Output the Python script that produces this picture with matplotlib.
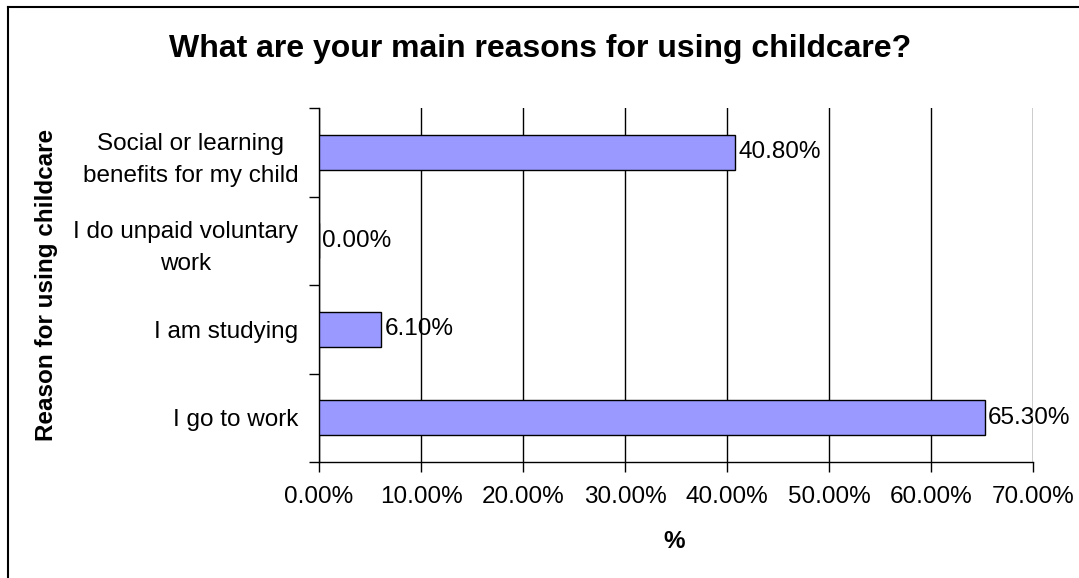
import matplotlib
matplotlib.use("Agg")
import matplotlib.pyplot as plt
from matplotlib.lines import Line2D
import numpy as np

plt.rcParams['font.family'] = ['Liberation Sans', 'DejaVu Sans']

# data (bottom to top)
categories = ["I go to work", "I am studying", "I do unpaid voluntary\nwork",
              "Social or learning\nbenefits for my child"]
values = [65.3, 6.1, 0.0, 40.8]
x_ticks = [0, 10, 20, 30, 40, 50, 60, 70]

W, H = 1079, 578
fig = plt.figure(figsize=(W / 100, H / 100), dpi=100)
ax = fig.add_axes([319 / W, 1 - 462 / H, (1033 - 319) / W, (462 - 108) / H])

FS = 17.5

y = np.arange(len(categories))
ax.barh(y, values, height=0.4, color='#9999FF', edgecolor='black', linewidth=1, zorder=3)

for yi, v in zip(y, values):
    ax.text(v + 0.3, yi, f"{v:.2f}%", va='center', ha='left', fontsize=FS, zorder=4)

ax.set_xlim(0, 70)
ax.set_ylim(-0.5, len(categories) - 0.5)

ax.set_xticks(x_ticks)
ax.set_xticklabels([f"{t:.2f}%" for t in x_ticks], fontsize=FS)
ax.tick_params(axis='x', direction='out', length=7, width=1, pad=10)

# category boundaries as major ticks, labels on minor ticks
ax.set_yticks(np.arange(-0.5, len(categories), 1.0))
ax.set_yticklabels([])
ax.set_yticks(y, minor=True)
ax.set_yticklabels(categories, minor=True, fontsize=FS, multialignment='center',
                   linespacing=1.6)
ax.tick_params(axis='y', which='major', direction='out', length=7, width=1)
ax.tick_params(axis='y', which='minor', length=0, pad=15)

ax.grid(axis='x', color='black', linewidth=1, zorder=0)
ax.set_axisbelow(True)
for s in ['top', 'right']:
    ax.spines[s].set_visible(False)
for s in ['left', 'bottom']:
    ax.spines[s].set_linewidth(1)

# axis titles
fig.text(674 / W, 1 - 541 / H, "%", ha='center', va='center', fontsize=FS, fontweight='bold')
fig.text(47 / W, 1 - 285 / H, "Reason for using childcare", ha='center', va='center',
         rotation=90, fontsize=FS, fontweight='bold')

fig.text(540 / W, 1 - 49 / H, "What are your main reasons for using childcare?",
         ha='center', va='center', fontsize=23, fontweight='bold')

# outer chart border (clipped at right and bottom in the original)
fig.add_artist(Line2D([8 / W, 8 / W], [0, 1 - 7 / H], color='black', linewidth=1.5,
                      transform=fig.transFigure))
fig.add_artist(Line2D([8 / W, 1], [1 - 7 / H, 1 - 7 / H], color='black', linewidth=1.5,
                      transform=fig.transFigure))

fig.savefig("out.png", dpi=100)
